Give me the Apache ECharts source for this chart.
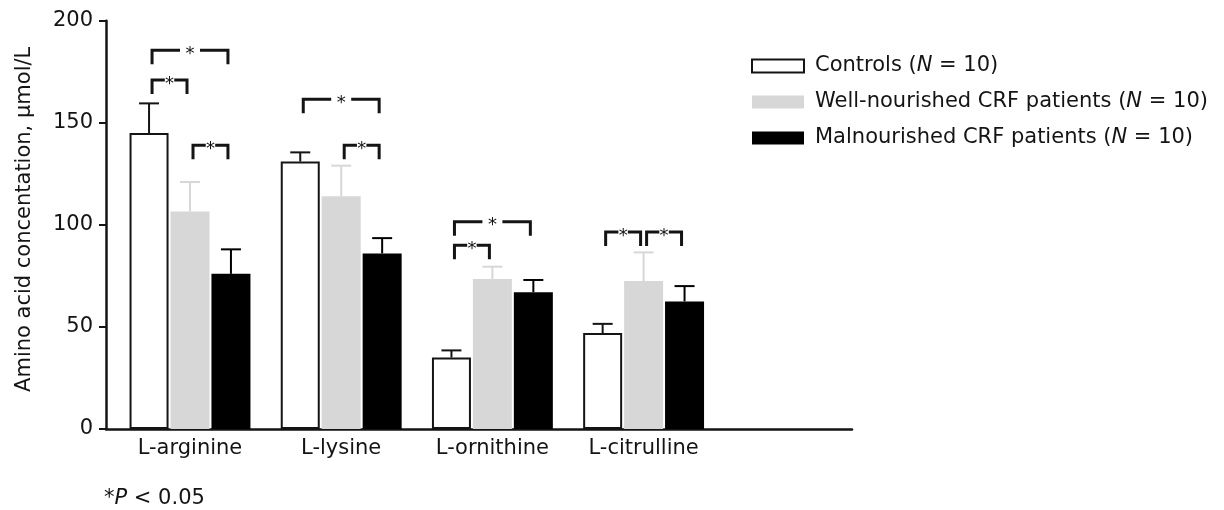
<!DOCTYPE html>
<html>
<head>
<meta charset="utf-8">
<title>Amino acid concentrations</title>
<script src="https://cdn.jsdelivr.net/npm/echarts@6/dist/echarts.min.js"></script>
<style>
  html, body { margin: 0; padding: 0; background: #fff; }
  #chart { width: 1224px; height: 510px; }
</style>
</head>
<body>
<div id="chart"></div>
<script>
// Amino acids measured
const categories = ['L-arginine', 'L-lysine', 'L-ornithine', 'L-citrulline'];

// Group names shown in the legend
const groupNames = ['Controls', 'Well-nourished CRF patients', 'Malnourished CRF patients'];
const groupN = [10, 10, 10];

// Mean concentrations (µmol/L) and upper error (µmol/L)
const controlsMean = [145, 131, 35, 47];
const controlsErr = [14.5, 4.5, 3.5, 4.5];
const wellMean = [106.5, 114, 73.5, 72.5];
const wellErr = [14.5, 15, 6, 14];
const malMean = [76, 86, 67, 62.5];
const malErr = [12, 7.5, 6, 7.5];

// Significance brackets: [category index, from group, to group, bracket level (µmol/L)]
const brackets = [
  [0, 0, 2, 185.5],
  [0, 0, 1, 171],
  [0, 1, 2, 139],
  [1, 0, 2, 161.5],
  [1, 1, 2, 139],
  [2, 0, 2, 101.5],
  [2, 0, 1, 90],
  [3, 0, 1, 96.5],
  [3, 1, 2, 96.5]
];

// Y axis ticks
const yMin = 0, yMax = 200, yStep = 50;

const FONT = 'DejaVu Sans';
const INK = '#141414';
const GREY = '#d7d7d7';
const BAR_W = 39;
const BAR_GAP = 0.05;
const PITCH = BAR_W * (1 + BAR_GAP);
const groupColors = ['#ffffff', GREY, '#000000'];
const errColors = [INK, GREY, '#000000'];

const means = [controlsMean, wellMean, malMean];
const errs = [controlsErr, wellErr, malErr];

function barOffset(g) { return (g - 1) * PITCH; }

// Error bar data: [category, group, mean, error]
const errData = [];
means.forEach((arr, g) => arr.forEach((m, i) => errData.push([i, g, m, errs[g][i]])));

function renderErr(params, api) {
  const cat = api.value(0), g = api.value(1), m = api.value(2), e = api.value(3);
  const base = api.coord([cat, m]);
  const top = api.coord([cat, m + e]);
  const x = base[0] + barOffset(g);
  const cap = 10;
  const style = { stroke: errColors[g], lineWidth: 2, fill: null };
  return {
    type: 'group',
    children: [
      { type: 'line', shape: { x1: x, y1: base[1], x2: x, y2: top[1] }, style },
      { type: 'line', shape: { x1: x - cap, y1: top[1], x2: x + cap, y2: top[1] }, style }
    ]
  };
}

function renderBracket(params, api) {
  const cat = api.value(0), g0 = api.value(1), g1 = api.value(2), lvl = api.value(3);
  const c = api.coord([cat, lvl]);
  const inset = 3, leg = 14;
  const x0 = c[0] + barOffset(g0) + inset;
  const x1 = c[0] + barOffset(g1) - inset;
  const y = c[1];
  const span = x1 - x0;
  const gap = Math.min(20, span * 0.27);
  const mid = (x0 + x1) / 2;
  const style = { stroke: INK, lineWidth: 3, fill: null, lineJoin: 'miter' };
  return {
    type: 'group',
    children: [
      { type: 'polyline', shape: { points: [[x0, y + leg], [x0, y], [mid - gap / 2, y]] }, style },
      { type: 'polyline', shape: { points: [[mid + gap / 2, y], [x1, y], [x1, y + leg]] }, style },
      { type: 'text', x: mid, y: y + 4, style: { text: '*', fill: INK, font: '18px "' + FONT + '"', align: 'center', verticalAlign: 'middle' } }
    ]
  };
}

const legendLabel = {
  0: groupNames[0] + ' (N = ' + groupN[0] + ')',
  1: groupNames[1] + ' (N = ' + groupN[1] + ')',
  2: groupNames[2] + ' (N = ' + groupN[2] + ')'
};

const barSeries = means.map((arr, g) => ({
  name: legendLabel[g],
  type: 'bar',
  xAxisIndex: 0,
  yAxisIndex: 0,
  data: arr,
  barWidth: BAR_W,
  barGap: (BAR_GAP * 100) + '%',
  itemStyle: g === 0
    ? { color: '#ffffff', borderColor: INK, borderWidth: 2 }
    : { color: groupColors[g] },
  emphasis: { disabled: true },
  z: 2
}));

const chart = echarts.init(document.getElementById('chart'), null, { renderer: 'canvas' });

chart.setOption({
  animation: false,
  backgroundColor: '#ffffff',
  textStyle: { fontFamily: FONT, color: INK },
  grid: [
    // bars
    { left: 114.4, width: 604.8, top: 20.7, bottom: 81 },
    // visible axes frame
    { left: 106, right: 372, top: 20.7, bottom: 81 }
  ],
  xAxis: [
    {
      type: 'category',
      gridIndex: 0,
      data: categories,
      axisLine: { show: false },
      axisTick: { show: false },
      axisLabel: { fontSize: 21, fontFamily: FONT, color: INK, margin: 9 }
    },
    {
      type: 'value',
      gridIndex: 1,
      min: 0,
      max: 1,
      axisLine: { show: true, onZero: false, lineStyle: { color: INK, width: 2.5 } },
      axisTick: { show: false },
      axisLabel: { show: false },
      splitLine: { show: false }
    }
  ],
  yAxis: [
    {
      type: 'value',
      gridIndex: 0,
      min: yMin, max: yMax, interval: yStep,
      show: false,
      splitLine: { show: false }
    },
    {
      type: 'value',
      gridIndex: 1,
      min: yMin, max: yMax, interval: yStep,
      name: 'Amino acid concentation, µmol/L',
      nameLocation: 'middle',
      nameGap: 71,
      nameTextStyle: { fontSize: 21, fontFamily: FONT, color: INK, padding: [0, 0, 0, 11] },
      axisLine: { show: true, lineStyle: { color: INK, width: 2.5 } },
      axisTick: { show: true, length: 7, lineStyle: { color: INK, width: 2 } },
      axisLabel: { fontSize: 21, fontFamily: FONT, color: INK, margin: 13 },
      splitLine: { show: false }
    }
  ],
  legend: {
    left: 751,
    top: 54,
    orient: 'vertical',
    itemWidth: 52,
    itemHeight: 13,
    itemGap: 12,
    padding: 0,
    icon: 'rect',
    selectedMode: false,
    data: [
      { name: legendLabel[0], itemStyle: { color: '#ffffff', borderColor: INK, borderWidth: 2 } },
      { name: legendLabel[1], itemStyle: { color: GREY, borderWidth: 0 } },
      { name: legendLabel[2], itemStyle: { color: '#000000', borderWidth: 0 } }
    ],
    formatter: function (name) {
      const m = name.match(/^(.*\()N( = .*)$/);
      return '{n|' + m[1] + '}{i|N}{n|' + m[2] + '}';
    },
    textStyle: {
      fontSize: 21, fontFamily: FONT, color: INK, lineHeight: 24, padding: [0, 0, 0, 6],
      rich: {
        n: { fontSize: 21, fontFamily: FONT, color: INK, lineHeight: 24 },
        i: { fontSize: 21, fontFamily: FONT, color: INK, lineHeight: 24, fontStyle: 'italic' }
      }
    }
  },
  graphic: [
    {
      type: 'text',
      left: 104,
      top: 488,
      style: {
        text: '{a|*}{i|P}{a| < 0.05}',
        rich: {
          a: { fontSize: 21, fontFamily: FONT, fill: INK },
          i: { fontSize: 21, fontFamily: FONT, fill: INK, fontStyle: 'italic' }
        }
      }
    }
  ],
  series: barSeries.concat([
    {
      name: 'errors',
      type: 'custom',
      xAxisIndex: 0,
      yAxisIndex: 0,
      data: errData,
      renderItem: renderErr,
      clip: false,
      silent: true,
      z: 3
    },
    {
      name: 'significance',
      type: 'custom',
      xAxisIndex: 0,
      yAxisIndex: 0,
      data: brackets,
      renderItem: renderBracket,
      clip: false,
      silent: true,
      z: 4
    }
  ])
});
</script>
</body>
</html>
